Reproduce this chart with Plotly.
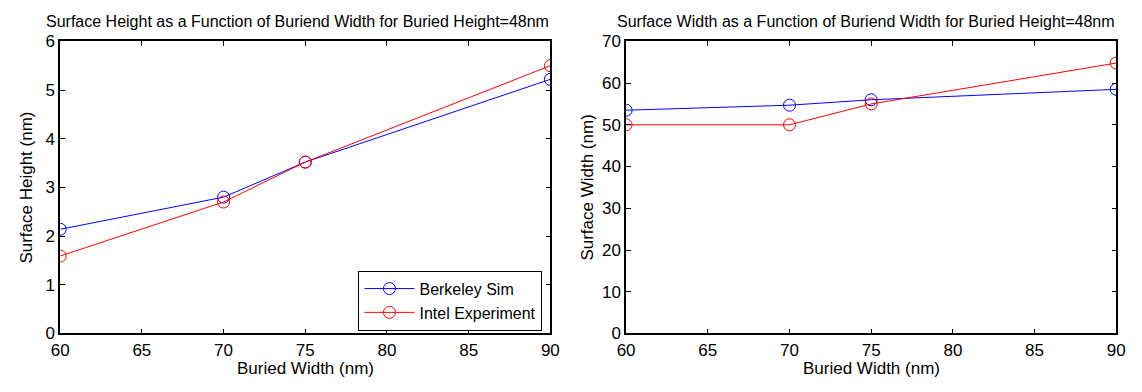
import plotly.graph_objects as go
from plotly.subplots import make_subplots

# Buried width sweep (nm)
buried_width = [60, 70, 75, 90]

# Surface height (nm)
height_sim = [2.14, 2.80, 3.52, 5.22]
height_exp = [1.59, 2.70, 3.52, 5.50]

# Surface width (nm)
width_sim = [53.5, 54.7, 56.0, 58.5]
width_exp = [50.0, 50.0, 55.0, 64.8]

x_ticks = [60, 65, 70, 75, 80, 85, 90]
h_ticks = [0, 1, 2, 3, 4, 5, 6]
w_ticks = [0, 10, 20, 30, 40, 50, 60, 70]

FONT = "Liberation Sans, Arial, sans-serif"
BLUE = "#0000ff"
RED = "#ff0000"

fig = make_subplots(rows=1, cols=2)

def add_series(x, y, name, color, col, show):
    fig.add_trace(go.Scatter(
        x=x, y=y, name=name, mode="lines+markers",
        line=dict(color=color, width=1),
        marker=dict(symbol="circle-open", size=12, color=color, line=dict(width=1, color=color)),
        showlegend=show,
    ), row=1, col=col)

add_series(buried_width, height_sim, "Berkeley Sim", BLUE, 1, True)
add_series(buried_width, height_exp, "Intel Experiment", RED, 1, True)
add_series(buried_width, width_sim, "Berkeley Sim", BLUE, 2, False)
add_series(buried_width, width_exp, "Intel Experiment", RED, 2, False)

axis_common = dict(
    showline=True, linecolor="black", linewidth=1.5, mirror="ticks",
    ticks="inside", ticklen=5, tickcolor="black", showgrid=False, zeroline=False,
    tickfont=dict(family=FONT, size=17, color="black"),
)

y_dom = [51 / 392, 358 / 392]
fig.update_xaxes(**axis_common, range=[60, 90], tickvals=x_ticks)
fig.update_xaxes(domain=[52 / 1142, 550 / 1142], row=1, col=1)
fig.update_xaxes(domain=[627 / 1142, 1125 / 1142], row=1, col=2)
fig.update_yaxes(**axis_common, domain=y_dom)
fig.update_yaxes(range=[0, 6], tickvals=h_ticks, row=1, col=1)
fig.update_yaxes(range=[0, 70], tickvals=w_ticks, row=1, col=2)

title_font = dict(family=FONT, size=16, color="black")
label_font = dict(family=FONT, size=17, color="black")
annotations = [
    dict(text="Surface Height as a Function of Buriend Width for Buried Height=48nm",
         x=(52 + 550) / 2 / 1142 - 8 / 1142, y=1 - 13 / 392, font=title_font),
    dict(text="Surface Width as a Function of Buriend Width for Buried Height=48nm",
         x=(627 + 1125) / 2 / 1142 - 5 / 1142, y=1 - 13 / 392, font=title_font),
    dict(text="Buried Width (nm)", x=(52 + 550) / 2 / 1142, y=1 - 378 / 392, font=label_font),
    dict(text="Buried Width (nm)", x=(627 + 1125) / 2 / 1142, y=1 - 378 / 392, font=label_font),
    dict(text="Surface Height (nm)", x=18 / 1142, y=1 - 188 / 392, textangle=-90, font=label_font),
    dict(text="Surface Width (nm)", x=588 / 1142, y=1 - 188 / 392, textangle=-90, font=label_font),
]
fig.update_layout(annotations=[
    dict(a, xref="paper", yref="paper", showarrow=False,
         xanchor="center", yanchor="middle")
    for a in annotations
])

fig.update_layout(
    width=1142, height=392,
    margin=dict(l=0, r=0, t=0, b=0),
    paper_bgcolor="white", plot_bgcolor="white",
    legend=dict(
        x=542 / 1142, y=1 - 275 / 392, xanchor="right", yanchor="top",
        bordercolor="black", borderwidth=1, bgcolor="white",
        font=dict(family=FONT, size=16, color="black"),
        itemwidth=50, tracegroupgap=0,
    ),
)

fig.write_html("out.html")
